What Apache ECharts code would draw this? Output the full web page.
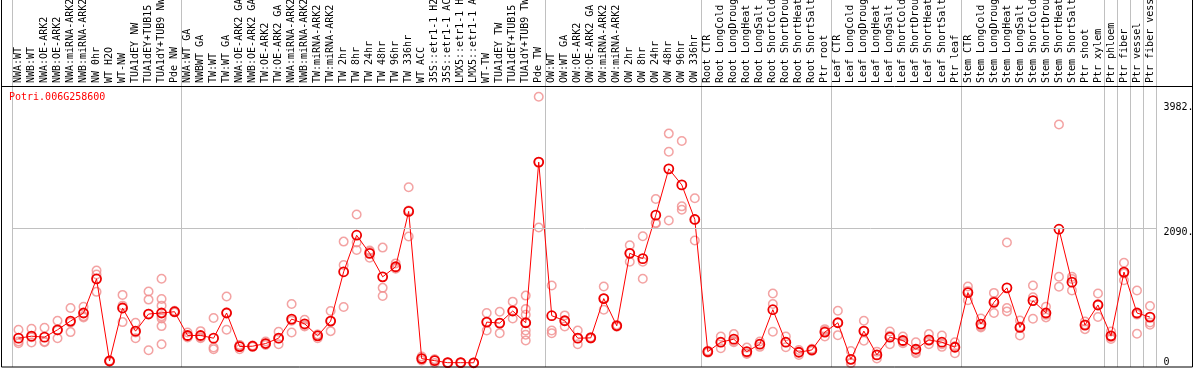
<!DOCTYPE html>
<html><head><meta charset="utf-8">
<script src="https://cdn.jsdelivr.net/npm/echarts@6/dist/echarts.min.js"></script>
<style>html,body{margin:0;padding:0;background:#fff}#c{width:1194px;height:370px}</style>
</head><body><div id="c"></div>
<script>
const geneName = 'Potri.006G258600';
const categories = [
'NWA:WT','NWB:WT','NWA:OE-ARK2','NWB:OE-ARK2','NWA:miRNA-ARK2','NWB:miRNA-ARK2','NW 0hr','WT H2O','WT-NW','TUA1dEY NW','TUA1dEY+TUB15 NW','TUA1dY+TUB9 NW','Pde NW',
'NWA:WT GA','NWBWT GA','TW:WT','TW:WT GA','NWA:OE-ARK2 GA','NWB:OE-ARK2 GA','TW:OE-ARK2','TW:OE-ARK2 GA','NWA:miRNA-ARK2 GA','NWB:miRNA-ARK2 GA','TW:miRNA-ARK2','TW:miRNA-ARK2 GA',
'TW 2hr','TW 8hr','TW 24hr','TW 48hr','TW 96hr','TW 336hr','WT ACC','35S::etr1-1 H2O','35S::etr1-1 ACC','LMX5::etr1-1 H2O','LMX5::etr1-1 ACC','WT-TW','TUA1dEY TW','TUA1dEY+TUB15 TW','TUA1dY+TUB9 TW','Pde TW',
'OW:WT','OW:WT GA','OW:OE-ARK2','OW:OE-ARK2 GA','OW:miRNA-ARK2','OW:miRNA-ARK2 GA','OW 2hr','OW 8hr','OW 24hr','OW 48hr','OW 96hr','OW 336hr',
'Root CTR','Root LongCold','Root LongDrought','Root LongHeat','Root LongSalt','Root ShortCold','Root ShortDrought','Root ShortHeat','Root ShortSalt','Ptr root',
'Leaf CTR','Leaf LongCold','Leaf LongDrought','Leaf LongHeat','Leaf LongSalt','Leaf ShortCold','Leaf ShortDrought','Leaf ShortHeat','Leaf ShortSalt','Ptr leaf',
'Stem CTR','Stem LongCold','Stem LongDrought','Stem LongHeat','Stem LongSalt','Stem ShortCold','Stem ShortDrought','Stem ShortHeat','Stem ShortSalt','Ptr shoot','Ptr xylem',
'Ptr phloem','Ptr fiber','Ptr vessel','Ptr fiber vessel'];
const means = [384,415,400,514,649,774,1303,31,851,493,758,774,794,
426,426,384,774,254,260,301,384,680,607,420,649,1412,1978,1698,1334,1490,2347,68,36,5,5,3,633,618,805,623,3110,
732,654,384,389,997,576,1698,1615,2289,3006,2757,2222,
176,322,369,176,291,825,322,166,202,478,
623,57,494,125,400,348,213,358,322,244,
1090,602,939,1163,550,966,774,2071,1251,587,898,
420,1407,774,711];
const replicates = [
[514,332,306],[529,316,400],[545,333,322],[654,504,384],[851,628,478],[872,722,706],[1433,1370,1101],[40,30,25],[1054,888,633],[623,472,384],[1106,981,197,763],[1303,992,888,722,690,571,291],[810,790,782],
[472,410,396],[493,400,384],[696,239,213],[1028,780,514],[280,270,213],[270,260,250],[332,301,280],[483,380,291],[914,655,472],[670,585,566],[436,440,384],[805,649,493],
[1879,1516,867],[2300,1864,1749],[1740,1724,1630],[1786,1163,1038],[1542,1470,1459],[2721,2362,1958],[99,68,40],[57,50,0],[8,5,2],[8,5,2],[5,3,1],[774,633,503],[794,618,462],[950,805,690],[1043,836,748,620,503,436,347],[4122,3110,2098],
[1199,503,462],[737,654,565],[503,384,291],[400,389,380],[1184,997,825],[590,576,560],[1822,1700,1568],[1962,1568,1303],[2539,2160,2170],[3551,3271,2207],[3437,2425,2372],[2549,2222,1895],
[190,176,160],[410,322,229],[447,340,320],[238,151,140],[332,291,250],[1075,914,483],[410,322,244],[200,166,125],[220,202,185],[524,500,410],
[810,623,431],[187,0,0],[654,494,343],[176,125,70],[488,420,291],[410,330,305],[322,170,151],[447,340,291],[426,290,250],[322,260,151],
[1184,1116,970],[690,565,550],[1085,958,774],[1864,851,799],[659,565,426],[1199,1017,685],[872,745,706],[3691,1335,1179],[1335,1300,1121],[643,595,524],[1075,908,711],
[488,400,372],[1552,1387,1282],[1121,749,452],[883,628,592]];
const groupStarts = [0,13,41,53,63,73,84,85,86,87];
const yTickValues = [0, 2090, 3982];
const yTickLabels = ['0', '2090.', '3982.'];
const gridLineValue = 2090;

const mono = 'DejaVu Sans Mono';
const sepLine = {show:true, interval:(i)=>groupStarts.indexOf(i)>=0, lineStyle:{color:'#c0c0c0', width:1}};
const repData = [];
replicates.forEach((r,i)=>r.forEach(v=>repData.push([i,v])));

const chart = echarts.init(document.getElementById('c'), null, {renderer:'canvas'});
chart.setOption({
  animation:false,
  backgroundColor:'#fff',
  title:{text:geneName, left:9, top:92, padding:0, textStyle:{color:'#ff0000', fontSize:10, fontFamily:mono, fontWeight:'normal'}},
  grid:[
    {left:12, right:37.5, top:0, height:86, containLabel:false, outerBoundsMode:'none'},
    {left:12, right:37.5, top:86, bottom:3, containLabel:false, outerBoundsMode:'none'}
  ],
  xAxis:[
    {gridIndex:0, type:'category', data:categories, boundaryGap:true, axisLine:{show:false}, axisTick:{show:false}, axisLabel:{show:false}, splitLine:sepLine},
    {gridIndex:1, type:'category', data:categories, boundaryGap:true, position:'top', axisLine:{show:false}, axisTick:{show:false},
     axisLabel:{interval:0, rotate:90, margin:3, fontFamily:mono, fontSize:10, color:'#000'}, splitLine:sepLine}
  ],
  yAxis:[
    {gridIndex:0, type:'value', show:false},
    {gridIndex:1, type:'value', position:'right', min:-62, max:4288, axisLine:{show:false}, axisTick:{show:false}, splitLine:{show:false},
     axisLabel:{customValues:yTickValues,
       formatter:(v)=>{const k=yTickValues.indexOf(v);return k>=0?('{t'+k+'|'+yTickLabels[k]+'}'):'';},
       rich:{t0:{padding:[0,0,2,0], fontFamily:mono, fontSize:10, color:'#000'},
             t1:{padding:[8,0,0,0], fontFamily:mono, fontSize:10, color:'#000'},
             t2:{padding:[3,0,0,0], fontFamily:mono, fontSize:10, color:'#000'}},
       margin:7, fontFamily:mono, fontSize:10, color:'#000'}}
  ],
  graphic:[
    {type:'rect', z:100, shape:{x:1.5, y:86.5, width:1191, height:280.5}, style:{fill:'none', stroke:'#000', lineWidth:1}, silent:true},
    {type:'line', z:100, shape:{x1:1.5, y1:0, x2:1.5, y2:87}, style:{stroke:'#000', lineWidth:1}, silent:true},
    {type:'line', z:100, shape:{x1:1192.5, y1:0, x2:1192.5, y2:87}, style:{stroke:'#000', lineWidth:1}, silent:true}
  ],
  series:[
    {type:'scatter', xAxisIndex:1, yAxisIndex:1, data:repData, symbol:'circle', symbolSize:8.5,
     itemStyle:{color:'rgba(0,0,0,0)', borderColor:'#f08c8c', borderWidth:1.5}, z:2,
     markLine:{silent:true, symbol:'none', label:{show:false}, lineStyle:{color:'#c0c0c0', width:1, type:'solid'}, data:[{yAxis:gridLineValue}], animation:false}},
    {type:'line', xAxisIndex:1, yAxisIndex:1, data:means, symbol:'circle', symbolSize:9, showAllSymbol:true,
     lineStyle:{color:'#ff0000', width:1}, itemStyle:{color:'rgba(0,0,0,0)', borderColor:'#ee0000', borderWidth:1.8}, z:3}
  ]
});
</script></body></html>
